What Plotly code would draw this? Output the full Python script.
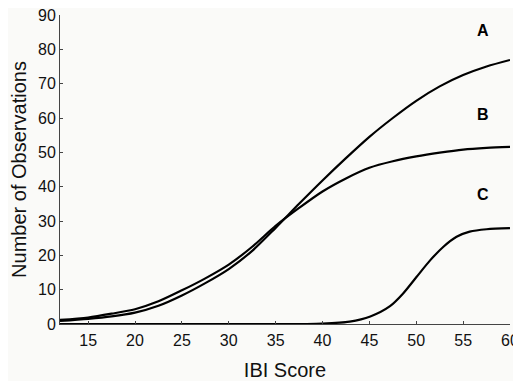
import plotly.graph_objects as go

# Curves A and B read at a common grid
x_vals = [12, 15, 17.5, 20, 22.5, 25, 27.5, 30, 32.5, 35, 37.5, 40, 42.5, 45, 47.5, 50, 52.5, 55, 57.5, 60]
curve_a = [0.9, 1.5, 2.2, 3.3, 5.3, 8.3, 11.9, 16.0, 21.3, 28.0, 35.0, 41.8, 48.3, 54.5, 60.0, 65.0, 69.2, 72.5, 75.0, 76.9]
curve_b = [1.2, 1.9, 3.0, 4.3, 6.6, 9.8, 13.3, 17.3, 22.5, 28.6, 33.8, 38.6, 42.4, 45.5, 47.4, 48.8, 49.9, 50.8, 51.3, 51.6]

# Curve C read at its own points
c_x = [12, 20, 30, 38, 40, 42.9, 45.1, 47.2, 48.6, 50.0, 51.5, 52.9, 54.3, 55.7, 57.5, 60]
curve_c = [0, 0, 0, 0, 0.1, 0.7, 2.2, 5.2, 8.9, 13.6, 18.6, 22.5, 25.4, 26.9, 27.6, 27.9]

labels = ["A", "B", "C"]
label_x = [57.15, 57.15, 57.15]
label_y = [85.4, 60.9, 37.6]

x_ticks = [15, 20, 25, 30, 35, 40, 45, 50, 55, 60]
y_ticks = [0, 10, 20, 30, 40, 50, 60, 70, 80, 90]

fig = go.Figure()
for xs, ys in ((x_vals, curve_a), (x_vals, curve_b), (c_x, curve_c)):
    fig.add_trace(go.Scatter(x=xs, y=ys, mode="lines",
                             line=dict(color="black", width=2.2, shape="spline", smoothing=0.8),
                             showlegend=False, hoverinfo="skip"))

for t, lx, ly in zip(labels, label_x, label_y):
    fig.add_annotation(x=lx, y=ly, text="<b>" + t + "</b>", showarrow=False,
                       font=dict(family="Liberation Sans, Arial", size=16, color="black"))

bg = "#fafaf8"
fig.update_layout(
    width=513, height=373,
    margin=dict(l=52, r=11, t=7, b=57),
    paper_bgcolor=bg, plot_bgcolor=bg,
    font=dict(family="Liberation Sans, Arial", size=16, color="#111"),
)
fig.update_xaxes(range=[12, 60], tickvals=x_ticks, ticks="inside", ticklen=3, tickcolor="#444",
                 showgrid=False, zeroline=False, showline=True, linecolor="#444", linewidth=1,
                 automargin=False, ticklabelstandoff=2, ticklabeloverflow="allow",
                 title=dict(text="IBI Score", font=dict(size=20), standoff=14))
fig.update_yaxes(range=[0, 90], tickvals=y_ticks, ticks="inside", ticklen=3, tickcolor="#444",
                 showgrid=False, zeroline=False, showline=True, linecolor="#444", linewidth=1,
                 automargin=False, ticklabeloverflow="allow",
                 title=dict(text="Number of Observations", font=dict(size=20), standoff=8))

fig.write_html("out.html")
